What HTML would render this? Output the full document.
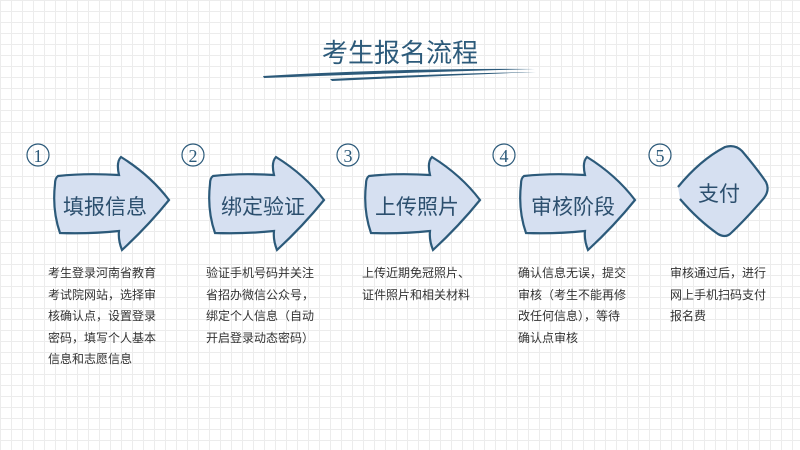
<!DOCTYPE html>
<html><head><meta charset="utf-8"><style>
html,body{margin:0;padding:0}
body{width:800px;height:450px;overflow:hidden;background:#fff;
background-image:linear-gradient(#ececec 1px,transparent 1px),linear-gradient(90deg,#ececec 1px,transparent 1px);
background-size:11px 11px;font-family:"Liberation Sans","Noto Sans CJK SC",sans-serif;position:relative}
.d{position:absolute;top:263px;font-size:12px;line-height:21.5px;color:#333;width:110px}
</style></head><body>
<svg width="800" height="450" style="position:absolute;left:0;top:0" font-family="Liberation Sans, Noto Sans CJK SC, sans-serif">
<text x="400" y="62" text-anchor="middle" font-size="26" fill="#2c5a7a">考生报名流程</text>
<path d="M263 76 Q400 68 535 69 Q420 72 264 78 Z" fill="#2c5a7a"/>
<path d="M330 79 Q430 74 536 72 Q440 76 332 81 Z" fill="#2c5a7a"/>
<g id="a" stroke="#2c5a7a" stroke-width="2.2" fill="#d6e0f1">
<path d="M58 176 Q85 173 119 175 Q116 162 121 157 Q150 175 169 200 Q148 226 122 250 Q118 240 119 231 Q90 234 60 233 Q52 210 55 184 Q55 178 58 176 Z"/>
</g>
<use href="#a" x="155"/><use href="#a" x="311"/><use href="#a" x="466"/>
<path d="M678 187 Q700 160 725 147 Q735 144 742 151 Q758 170 766 182 Q770 190 764 198 Q745 220 730 234 Q725 238 718 234 Q698 220 680 199" fill="#d6e0f1" stroke="#2c5a7a" stroke-width="2.2"/>
<g font-size="21" fill="#2c4f6e" text-anchor="middle">
<text x="105" y="214">填报信息</text>
<text x="263" y="214">绑定验证</text>
<text x="417" y="214">上传照片</text>
<text x="573" y="214">审核阶段</text>
<text x="719" y="201">支付</text>
</g>
<g fill="none" stroke="#2c5a7a" stroke-width="1.2">
<circle cx="38" cy="155" r="11"/><circle cx="193" cy="155" r="11"/><circle cx="348" cy="155" r="11"/><circle cx="504" cy="155" r="11"/><circle cx="660" cy="155" r="11"/>
</g>
<g font-size="18" fill="#2c5a7a" text-anchor="middle" font-family="Liberation Serif, serif">
<text x="38" y="162">1</text><text x="193" y="162">2</text><text x="348" y="162">3</text><text x="504" y="162">4</text><text x="660" y="162">5</text>
</g>
</svg>
<div class="d" style="left:48px">考生登录河南省教育考试院网站，选择审核确认点，设置登录密码，填写个人基本信息和志愿信息</div>
<div class="d" style="left:206px">验证手机号码并关注省招办微信公众号，绑定个人信息（自动开启登录动态密码）</div>
<div class="d" style="left:362px;">上传近期免冠照片、证件照片和相关材料</div>
<div class="d" style="left:518px">确认信息无误，提交审核（考生不能再修改任何信息），等待确认点审核</div>
<div class="d" style="left:670px;width:98px">审核通过后，进行网上手机扫码支付报名费</div>
</body></html>
